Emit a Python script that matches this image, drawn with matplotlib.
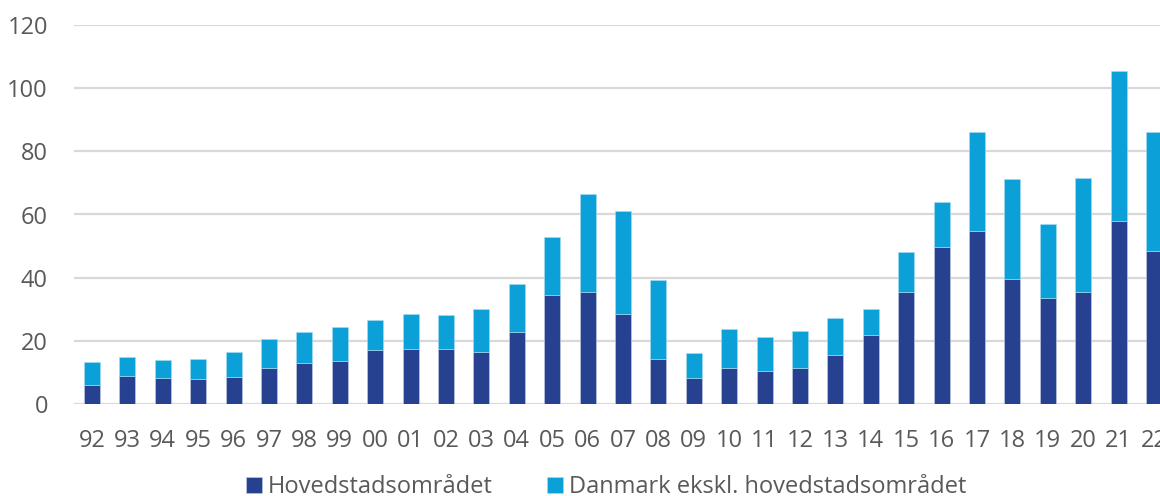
import matplotlib
matplotlib.use("Agg")
import matplotlib.pyplot as plt
import numpy as np

years = ["92", "93", "94", "95", "96", "97", "98", "99", "00", "01", "02",
         "03", "04", "05", "06", "07", "08", "09", "10", "11", "12", "13",
         "14", "15", "16", "17", "18", "19", "20", "21", "22"]
total = [13.2, 15.0, 13.8, 14.4, 16.6, 20.7, 22.9, 24.3, 26.6, 28.5, 28.2,
         30.1, 37.9, 53.0, 66.5, 61.1, 39.3, 16.2, 23.6, 21.1, 23.2, 27.2,
         30.1, 48.2, 64.1, 86.0, 71.1, 57.1, 71.7, 105.5, 86.0]
hovedstad = [6.0, 8.9, 8.2, 7.8, 8.4, 11.5, 13.0, 13.6, 17.2, 17.4, 17.4,
             16.6, 22.8, 34.5, 35.5, 28.4, 14.1, 8.1, 11.5, 10.6, 11.5, 15.6,
             21.7, 35.6, 49.6, 54.8, 39.6, 33.6, 35.6, 58.0, 48.4]
resten = [t - h for t, h in zip(total, hovedstad)]
yticks = [0, 20, 40, 60, 80, 100, 120]

dark = "#25418F"
light = "#0BA0D8"
grid_col = "#D9D9D9"
text_col = "#595959"

plt.rcParams["font.family"] = ["Open Sans", "DejaVu Sans"]

fig = plt.figure(figsize=(11.6, 4.96), dpi=100)
ax = fig.add_axes([74.3 / 1160, 92 / 496, 1097.4 / 1160, 379 / 496])

x = np.arange(len(years))
w = 0.45
b1 = ax.bar(x, hovedstad, w, color=dark, edgecolor="#C9D1E6", linewidth=0.4,
            label="Hovedstadsområdet", zorder=3)
b2 = ax.bar(x, resten, w, bottom=hovedstad, color=light, edgecolor="#A9DDF2",
            linewidth=0.4, label="Danmark ekskl. hovedstadsområdet", zorder=3)

ax.set_xlim(-0.5, len(years) - 0.5)
ax.set_ylim(0, 120)
ax.set_yticks(yticks)
ax.set_xticks(x)
ax.set_xticklabels(years)
ax.yaxis.grid(True, color=grid_col, linewidth=1.6, zorder=0)
ax.set_axisbelow(True)
for s in ax.spines.values():
    s.set_visible(False)
ax.tick_params(axis="both", length=0, labelsize=17, colors=text_col)
ax.tick_params(axis="y", pad=19)
ax.tick_params(axis="x", pad=18)

leg = fig.legend(handles=[b1, b2], loc="center", bbox_to_anchor=(606 / 1160, 1 - 487 / 496),
                 ncol=2, frameon=False, fontsize=17, handlelength=0.68, handleheight=0.68,
                 handletextpad=0.25, columnspacing=2.3, borderaxespad=0)
for t in leg.get_texts():
    t.set_color(text_col)

fig.savefig("out.png", dpi=100)
